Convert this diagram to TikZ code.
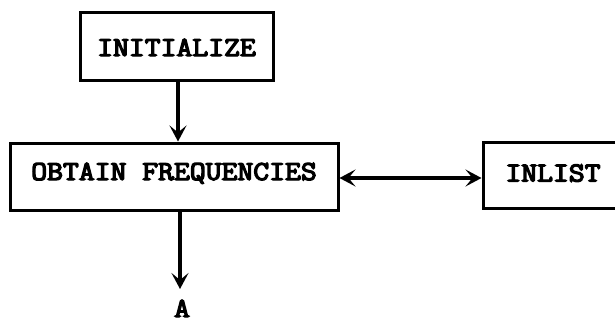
\documentclass[tikz,border=0pt]{standalone}
\usepackage{fontspec}
\usepackage{graphicx}
\usetikzlibrary{arrows.meta}
% heavy slab-serif typewriter lettering, widened a little
\newfontfamily\twfont[FakeBold=4.5]{Latin Modern Mono}
\newcommand{\tw}[1]{{\fontsize{27.5}{30}\selectfont\twfont\scalebox{1.12}[1]{#1}}}
\begin{document}
\begin{tikzpicture}[x=1pt,y=-1pt,
  >={Stealth[length=16pt,width=17pt,inset=7pt]},
  procbox/.style={draw=black, line width=3pt, fill=none, inner sep=0pt, text=black},
  flow/.style={line width=3.2pt, ->},
  label/.style={inner sep=0pt, anchor=base}
]
\useasboundingbox (0,0) rectangle (615,322);
\clip (0,0) rectangle (615,322);

% processing boxes
\node[procbox, minimum width=193pt, minimum height=68pt, text height=20pt, text depth=0pt]
  (init) at (176.5,46) {\tw{INITIALIZE}};
\node[procbox, minimum width=328pt, minimum height=67pt, text height=17pt, text depth=10pt]
  (obtain) at (174,176.5) {\tw{OBTAIN FREQUENCIES}};
\node[procbox, minimum width=140pt, minimum height=66pt, text height=17pt, text depth=4pt]
  (inlist) at (553,175) {\tw{INLIST}};

% connector label
\node[label] (a) at (182,317) {\tw{A}};
\coordinate (aend) at (180,289);

% connectors
\draw[flow] (init.south -| 178,0) -- (obtain.north -| 178,0);
\draw[flow, <->] (obtain.east |- 0,178) -- (inlist.west |- 0,178);
\draw[flow] (obtain.south -| aend) -- (aend);
\end{tikzpicture}
\end{document}
